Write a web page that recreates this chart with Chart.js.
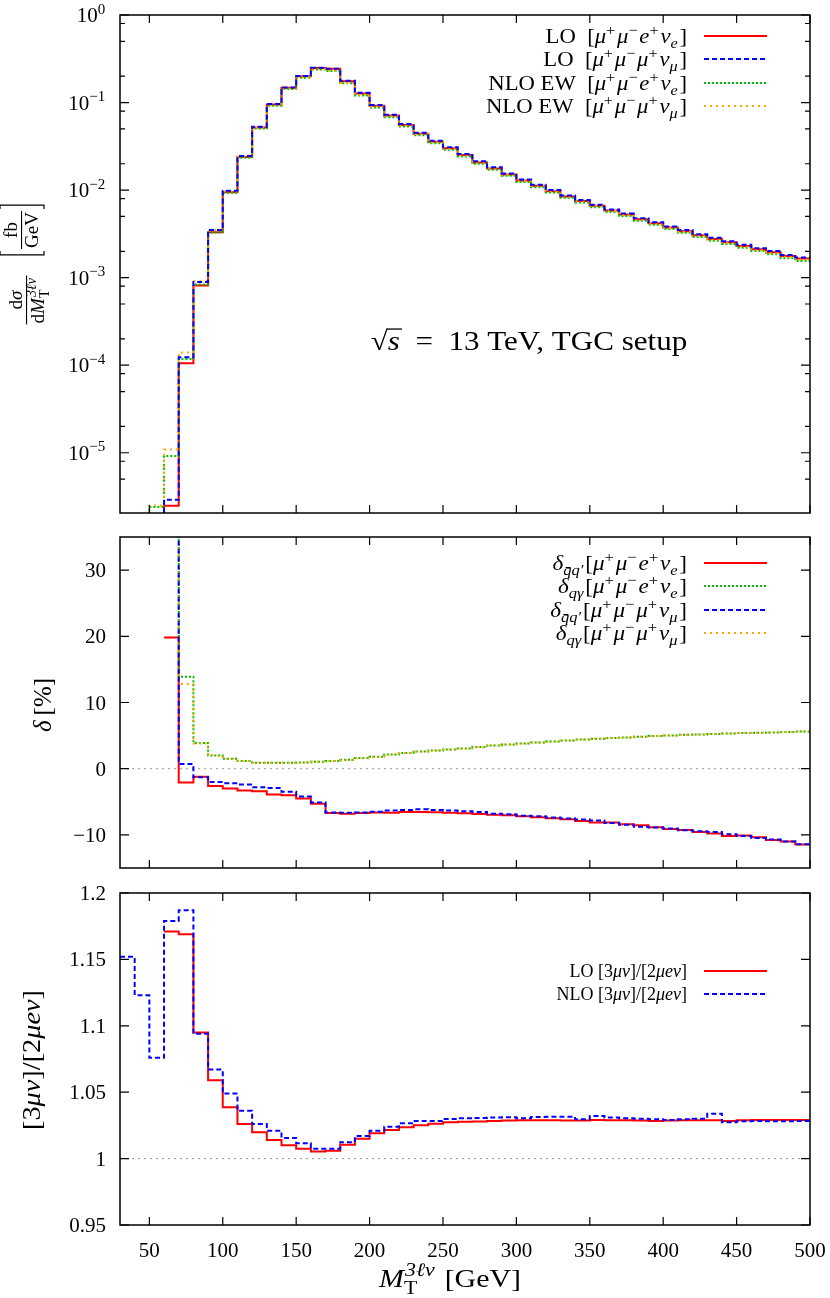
<!DOCTYPE html>
<html>
<head>
<meta charset="utf-8">
<script src="https://cdn.jsdelivr.net/npm/chart.js"></script>
<style>
  html, body { margin: 0; padding: 0; background: #fff; }
  #wrap { position: relative; width: 830px; height: 1298px; background: #fff; overflow: hidden; }
  canvas { position: absolute; left: 0; }
</style>
</head>
<body>
<div id="wrap">
  <canvas id="top" width="830" height="533" style="top:0px"></canvas>
  <canvas id="mid" width="830" height="371" style="top:517px"></canvas>
  <canvas id="bot" width="830" height="425" style="top:873px"></canvas>
</div>
<script>
// lower bin edges in GeV, the last bin ends at 500
const binLow = [30, 40, 50, 60, 70, 80, 90, 100, 110, 120, 130, 140, 150, 160, 170, 180, 190, 200,
  210, 220, 230, 240, 250, 260, 270, 280, 290, 300, 310, 320, 330, 340, 350, 360, 370, 380, 390,
  400, 410, 420, 430, 440, 450, 460, 470, 480, 490];
const binEnd = 500;

// tick labels
const xTicks = [50, 100, 150, 200, 250, 300, 350, 400, 450, 500];
const topTicks = [1e-5, 1e-4, 1e-3, 1e-2, 1e-1, 1];
const topMinor = [5e-6, 8e-6, 2e-5, 5e-5, 8e-5, 2e-4, 5e-4, 8e-4, 2e-3, 5e-3, 8e-3,
  2e-2, 5e-2, 8e-2, 2e-1, 5e-1, 8e-1];
const midTicks = [-10, 0, 10, 20, 30];
const botTicks = [0.95, 1, 1.05, 1.1, 1.15, 1.2];

// top panel: dsigma/dM [fb/GeV]
const loE = [null, null, 1.2e-6, 2.48e-6, 1.05e-4, 8.13e-4, 3.30e-3, 9.44e-3, 2.39e-2, 5.20e-2, 9.47e-2,
  0.1475, 0.1995, 0.2487, 0.2425, 0.1752, 0.1271, 0.0922, 0.0711, 0.0555, 0.0441, 0.0357, 0.0300,
  0.0251, 0.0207, 0.0177, 0.01507, 0.01283, 0.01118, 0.00972, 0.00846, 0.00749, 0.00661, 0.00583,
  0.00525, 0.00465, 0.00418, 0.00374, 0.00339, 0.00305, 0.00277, 0.00254, 0.00230, 0.00211,
  0.00195, 0.00177, 0.00165];
const loMu = [null, null, 1.3e-6, 2.9e-6, 1.23e-4, 8.9e-4, 3.5e-3, 9.8e-3, 2.45e-2, 5.3e-2, 9.6e-2,
  0.149, 0.201, 0.250, 0.244, 0.177, 0.129, 0.094, 0.0726, 0.0568, 0.0452, 0.0366, 0.0308, 0.0258,
  0.0213, 0.0182, 0.0155, 0.0132, 0.0115, 0.0100, 0.0087, 0.0077, 0.0068, 0.0060, 0.0054, 0.00478,
  0.0043, 0.00385, 0.00349, 0.00314, 0.00285, 0.00261, 0.00237, 0.00217, 0.00201, 0.00182, 0.0017];
const nloE = [null, 1.0e-6, 2.4e-6, 9.2e-6, 1.174e-4, 8.35e-4, 3.28e-3, 9.30e-3, 2.339e-2, 5.07e-2,
  9.19e-2, 0.1429, 0.1924, 0.2381, 0.2290, 0.1657, 0.1206, 0.0878, 0.0679, 0.0532, 0.0424, 0.0343,
  0.0289, 0.0242, 0.01996, 0.0171, 0.01456, 0.0124, 0.0108, 0.00939, 0.00817, 0.00723, 0.00637,
  0.00562, 0.00506, 0.00448, 0.00402, 0.00359, 0.00325, 0.00292, 0.00264, 0.00242, 0.00219,
  0.00201, 0.00185, 0.00167, 0.00155];
const nloMu = [null, 1.0e-6, 2.5e-6, 1.09e-5, 1.396e-4, 9.13e-4, 3.5e-3, 9.73e-3, 2.419e-2, 5.20e-2,
  9.41e-2, 0.1451, 0.1945, 0.2399, 0.2307, 0.1676, 0.1226, 0.0896, 0.0696, 0.0546, 0.0436, 0.0353,
  0.0297, 0.0249, 0.0206, 0.0176, 0.0150, 0.01277, 0.01113, 0.00967, 0.00842, 0.00745, 0.00657,
  0.00579, 0.0052, 0.00459, 0.00413, 0.0037, 0.00334, 0.00301, 0.00273, 0.00249, 0.00226, 0.00206,
  0.0019, 0.00172, 0.0016];

// middle panel: relative corrections [%]
const dqqE = [null, null, null, 19.8, -2.1, -1.2, -2.6, -3.0, -3.3, -3.4, -3.9, -4.0, -4.5, -5.3, -6.7,
  -6.8, -6.7, -6.6, -6.64, -6.54, -6.54, -6.59, -6.64, -6.74, -6.84, -6.94, -7.04, -7.19, -7.34,
  -7.49, -7.64, -7.89, -8.14, -8.14, -8.39, -8.55, -8.85, -9.1, -9.25, -9.55, -9.8, -10.16, -10.1,
  -10.36, -10.76, -11.01, -11.46];
const dqgE = [null, null, null, 250, 13.9, 3.9, 2.0, 1.5, 1.15, 0.9, 0.9, 0.9, 0.95, 1.05, 1.15, 1.35,
  1.6, 1.8, 2.16, 2.36, 2.6, 2.75, 2.9, 3.06, 3.26, 3.52, 3.67, 3.82, 3.97, 4.12, 4.27, 4.42, 4.52,
  4.62, 4.73, 4.83, 4.93, 5.03, 5.13, 5.18, 5.23, 5.33, 5.38, 5.43, 5.48, 5.53, 5.63];
const dqqMu = [null, null, null, 60, 0.7, -1.3, -2.0, -2.2, -2.4, -2.8, -2.9, -3.5, -4.2, -5.1, -6.6,
  -6.65, -6.6, -6.5, -6.33, -6.23, -6.13, -6.23, -6.33, -6.44, -6.54, -6.79, -6.89, -7.09, -7.19,
  -7.39, -7.54, -7.69, -7.84, -8.19, -8.45, -8.75, -8.9, -9.05, -9.3, -9.45, -9.55, -9.9, -10.16,
  -10.46, -10.71, -11.01, -11.41];
const dqgMu = [null, null, null, 216, 12.8, 3.8, 2.0, 1.5, 1.15, 0.9, 0.88, 0.9, 0.95, 1.05, 1.15, 1.33,
  1.58, 1.8, 2.15, 2.36, 2.58, 2.75, 2.9, 3.05, 3.25, 3.5, 3.67, 3.82, 3.97, 4.1, 4.27, 4.42, 4.52,
  4.62, 4.72, 4.83, 4.93, 5.02, 5.12, 5.18, 5.23, 5.32, 5.38, 5.43, 5.48, 5.53, 5.62];

// bottom panel: [3 mu nu]/[2 mu e nu]
const ratioLO = [null, null, null, 1.171, 1.169, 1.095, 1.059, 1.0386, 1.026, 1.0198, 1.014, 1.010,
  1.0075, 1.0053, 1.006, 1.0105, 1.015, 1.019, 1.0216, 1.0236, 1.0251, 1.0263, 1.0274, 1.0278, 1.028,
  1.0283, 1.0286, 1.0288, 1.0288, 1.0288, 1.0286, 1.0286, 1.0291, 1.0288, 1.0288, 1.0286, 1.0283,
  1.0286, 1.0288, 1.0288, 1.0288, 1.0283, 1.0288, 1.0291, 1.0291, 1.0291, 1.0291];
const ratioNLO = [1.152, 1.123, 1.076, 1.179, 1.187, 1.094, 1.067, 1.049, 1.036, 1.026, 1.021, 1.0156,
  1.0116, 1.0075, 1.0075, 1.0123, 1.017, 1.021, 1.024, 1.0266, 1.0283, 1.0283, 1.0298, 1.0303, 1.0306,
  1.0309, 1.0311, 1.0304, 1.0314, 1.0316, 1.0316, 1.0296, 1.0321, 1.0309, 1.0304, 1.0301, 1.0296,
  1.0291, 1.0296, 1.0301, 1.0338, 1.0273, 1.0281, 1.0283, 1.0281, 1.0281, 1.0283];

const RED = "#ff0000", BLUE = "#0000ff", GREEN = "#00c000", ORANGE = "#ffa500", GREY = "#999999";
const DASH_BLUE = [5, 3], DASH_GREEN = [2, 2], DASH_ORANGE = [2, 4];
const SERIF = "'Liberation Serif', 'DejaVu Serif', serif";

function steps(vals) {
  const pts = binLow.map((x, i) => ({ x: x, y: vals[i] }));
  pts.push({ x: binEnd, y: vals[vals.length - 1] });
  return pts;
}
function line(vals, color, dash) {
  return { data: steps(vals), borderColor: color, borderWidth: 2, borderDash: dash,
    stepped: true, pointRadius: 0, fill: false, spanGaps: false };
}
function refLine(v) {
  return { data: [{ x: 30, y: v }, { x: 500, y: v }], borderColor: GREY, borderWidth: 1,
    borderDash: [2, 4], pointRadius: 0, fill: false };
}

// rich text: r roman, i italic, sup/sub roman, supi/subi italic, stack "sup|sub"
function isSmall(kind) { return kind.startsWith("sup") || kind.startsWith("sub") || kind === "stack"; }
function fnt(kind, size) {
  return (kind.endsWith("i") ? "italic " : "") + Math.round(isSmall(kind) ? size * 0.72 : size) + "px " + SERIF;
}
function partWidth(ctx, t, k, size) {
  const extra = isSmall(k) ? size * 0.08 : 0;
  if (k === "stack") {
    const [a, b] = t.split("|");
    ctx.font = "italic " + fnt(k, size); const wa = ctx.measureText(a).width;
    ctx.font = fnt(k, size); const wb = ctx.measureText(b).width;
    return Math.max(wa, wb) + 1 + extra;
  }
  ctx.font = fnt(k, size);
  return ctx.measureText(t).width + extra;
}
function measure(ctx, parts, size) {
  let w = 0;
  for (const [t, k] of parts) w += partWidth(ctx, t, k, size);
  return w;
}
// draws parts with baseline y; k widens the text a little to follow the wider TeX fonts
function rich(ctx, parts, x, y, size, align, k) {
  k = k || 1;
  ctx.textAlign = "left"; ctx.textBaseline = "alphabetic";
  const W = measure(ctx, parts, size) * k;
  const x0 = align === "right" ? x - W : align === "center" ? x - W / 2 : x;
  ctx.save();
  ctx.translate(x0, y); ctx.scale(k, 1);
  let cx = 0;
  for (const [t, kd] of parts) {
    const pw = partWidth(ctx, t, kd, size);
    if (kd === "stack") {
      const [a, b] = t.split("|");
      ctx.font = "italic " + fnt(kd, size); ctx.fillText(a, cx + 1, -size * 0.42);
      ctx.font = fnt(kd, size); ctx.fillText(b, cx, size * 0.25);
    } else {
      ctx.font = fnt(kd, size);
      const dy = kd.startsWith("sup") ? -size * 0.4 : kd.startsWith("sub") ? size * 0.25 : 0;
      ctx.fillText(t, cx, dy);
    }
    cx += pw;
  }
  ctx.restore();
  return W;
}
function fitK(ctx, parts, size, target) {
  return Math.min(1.15, Math.max(1, target / measure(ctx, parts, size)));
}
function rotText(ctx, parts, x, y, size, target) {
  ctx.save();
  ctx.translate(x, y); ctx.rotate(-Math.PI / 2);
  const k = target ? fitK(ctx, parts, size, target) : 1;
  rich(ctx, parts, 0, size * 0.35, size, "center", k);
  ctx.restore();
}
// rows: [parts, colour, dash]; text right-aligned at 687, sample from 704 to 767
function legend(ctx, rows, ys, size, k) {
  rows.forEach((row, i) => {
    const y = ys[i];
    ctx.fillStyle = "#000";
    rich(ctx, row[0], 687, y + size * 0.33, size, "right", k);
    ctx.strokeStyle = row[1]; ctx.lineWidth = 2; ctx.setLineDash(row[2]);
    ctx.beginPath(); ctx.moveTo(704, y); ctx.lineTo(767, y); ctx.stroke();
    ctx.setLineDash([]);
  });
  ctx.strokeStyle = "#000";
}
function yLabels(ctx, scale, ticks, fmt) {
  ctx.fillStyle = "#000";
  ticks.forEach(v => rich(ctx, [[fmt(v), "r"]], 106, scale.getPixelForValue(v) + 7, 21, "right"));
}

const chanE = [["[", "r"], ["μ", "i"], ["+", "sup"], ["μ", "i"], ["−", "sup"], ["e", "i"], ["+", "sup"],
  ["ν", "i"], ["e", "subi"], ["]", "r"]];
const chanMu = [["[", "r"], ["μ", "i"], ["+", "sup"], ["μ", "i"], ["−", "sup"], ["μ", "i"], ["+", "sup"],
  ["ν", "i"], ["μ", "subi"], ["]", "r"]];
const dQQ = [["δ", "i"], ["q\u0304q\u2032", "subi"]];
const dQG = [["δ", "i"], ["qγ", "subi"]];
const GAP = ["\u2002", "r"];

// inward ticks, frame and panel texts
function frame(yMajor, yMinor, extra) {
  return {
    id: "frame",
    afterDraw(chart) {
      const { ctx, chartArea: a, scales } = chart;
      ctx.save();
      ctx.strokeStyle = "#000"; ctx.lineWidth = 1.2; ctx.setLineDash([]);
      ctx.beginPath();
      for (const v of xTicks) {
        const p = scales.x.getPixelForValue(v);
        ctx.moveTo(p, a.top); ctx.lineTo(p, a.top + 8);
        ctx.moveTo(p, a.bottom); ctx.lineTo(p, a.bottom - 8);
      }
      const yt = (list, len) => list.forEach(v => {
        const p = scales.y.getPixelForValue(v);
        if (p < a.top - 0.5 || p > a.bottom + 0.5) return;
        ctx.moveTo(a.left, p); ctx.lineTo(a.left + len, p);
        ctx.moveTo(a.right, p); ctx.lineTo(a.right - len, p);
      });
      yt(yMajor, 9); yt(yMinor, 5);
      ctx.stroke();
      ctx.lineWidth = 1.5;
      ctx.strokeRect(a.left, a.top, a.width, a.height);
      ctx.fillStyle = "#000";
      extra(ctx, chart);
      ctx.restore();
    }
  };
}

function opts(yScale, xHeight, padTop) {
  return {
    responsive: false, animation: false, devicePixelRatio: 1,
    layout: { padding: { top: padTop, right: 20, left: 0, bottom: 0 } },
    plugins: { legend: { display: false }, tooltip: { enabled: false } },
    scales: {
      x: {
        type: "linear", min: 30, max: 500,
        grid: { display: false, drawTicks: false }, border: { display: false },
        ticks: { display: false },
        afterFit: s => { s.height = xHeight; }
      },
      y: Object.assign({
        grid: { display: false, drawTicks: false }, border: { display: false },
        ticks: { display: false },
        afterFit: s => { s.width = 120; }
      }, yScale)
    }
  };
}

// ---- top panel
new Chart(document.getElementById("top"), {
  type: "line",
  data: { datasets: [
    line(loMu, BLUE, DASH_BLUE), line(nloMu, ORANGE, DASH_ORANGE),
    line(nloE, GREEN, DASH_GREEN), line(loE, RED, [])
  ] },
  options: opts({ type: "logarithmic", min: 2.05e-6, max: 1 }, 20, 15),
  plugins: [frame(topTicks, topMinor, (ctx, chart) => {
    const ys = chart.scales.y;
    topTicks.forEach(v => {
      const e = Math.round(Math.log10(v));
      rich(ctx, [["10", "r"], [e === 0 ? "0" : "−" + (-e), "sup"]], 107, ys.getPixelForValue(v) + 7, 21, "right");
    });
    legend(ctx, [
      [[["LO", "r"], GAP, ...chanE], RED, []],
      [[["LO", "r"], GAP, ...chanMu], BLUE, DASH_BLUE],
      [[["NLO EW", "r"], GAP, ...chanE], GREEN, DASH_GREEN],
      [[["NLO EW", "r"], GAP, ...chanMu], ORANGE, DASH_ORANGE]
    ], [36, 59, 83, 106], 21, 1.08);
    // sqrt(s) annotation, about 370..688
    const s = 27, by = 350;
    const ann = [["√", "r"], ["s", "i"], ["\u2002=\u200213 TeV, TGC setup", "r"]];
    const k = fitK(ctx, ann, s, 318);
    const w0 = rich(ctx, ann, 529, by, s, "center", k);
    const x0 = 529 - w0 / 2;
    const w1 = partWidth(ctx, "√", "r", s), ws = partWidth(ctx, "s", "i", s);
    ctx.fillRect(x0 + w1 * k - 1, by - s * 0.8, ws * k + 3, 1.3);
    // y title: dsigma / dM_T^{3lnu} [fb/GeV]
    ctx.save();
    ctx.translate(27, 266); ctx.rotate(-Math.PI / 2);
    const f = 19;
    rich(ctx, [["d", "r"], ["σ", "i"]], -34, -5, f, "center");
    const wd = rich(ctx, [["d", "r"], ["M", "i"], ["3ℓν|T", "stack"]], -34, 17, f, "center");
    ctx.fillRect(-34 - wd / 2 - 1, -1, wd + 2, 1.1);
    rich(ctx, [["fb", "r"]], 36, -10, f, "center");
    const wg = rich(ctx, [["GeV", "r"]], 36, 11, f, "center");
    ctx.fillRect(36 - wg / 2 - 1, -6, wg + 2, 1.1);
    const l = 36 - wg / 2 - 7, r = 36 + wg / 2 + 7;
    ctx.strokeStyle = "#000"; ctx.lineWidth = 1.2; ctx.beginPath();
    ctx.moveTo(l + 4, -27); ctx.lineTo(l, -27); ctx.lineTo(l, 17); ctx.lineTo(l + 4, 17);
    ctx.moveTo(r - 4, -27); ctx.lineTo(r, -27); ctx.lineTo(r, 17); ctx.lineTo(r - 4, 17);
    ctx.stroke();
    ctx.restore();
  })]
});

// ---- middle panel
new Chart(document.getElementById("mid"), {
  type: "line",
  data: { datasets: [
    line(dqqMu, BLUE, DASH_BLUE), line(dqgMu, ORANGE, DASH_ORANGE),
    line(dqgE, GREEN, DASH_GREEN), line(dqqE, RED, []), refLine(0)
  ] },
  options: opts({ type: "linear", min: -15, max: 35 }, 20, 20),
  plugins: [frame(midTicks, [], (ctx, chart) => {
    yLabels(ctx, chart.scales.y, midTicks, v => (v < 0 ? "−" + (-v) : String(v)));
    legend(ctx, [
      [[...dQQ, ...chanE], RED, []],
      [[...dQG, ...chanE], GREEN, DASH_GREEN],
      [[...dQQ, ...chanMu], BLUE, DASH_BLUE],
      [[...dQG, ...chanMu], ORANGE, DASH_ORANGE]
    ], [46, 69, 93, 116], 21, 1.1);
    rotText(ctx, [["δ", "i"], ["\u2009[%]", "r"]], 42, 188, 25, 50);
  })]
});

// ---- bottom panel
new Chart(document.getElementById("bot"), {
  type: "line",
  data: { datasets: [
    line(ratioNLO, BLUE, DASH_BLUE), line(ratioLO, RED, []), refLine(1)
  ] },
  options: opts({ type: "linear", min: 0.95, max: 1.2 }, 73, 20),
  plugins: [frame(botTicks, [], (ctx, chart) => {
    yLabels(ctx, chart.scales.y, botTicks, v => String(+v.toFixed(2)));
    xTicks.forEach(v => rich(ctx, [[String(v), "r"]], chart.scales.x.getPixelForValue(v), 384, 21, "center"));
    legend(ctx, [
      [[["LO [3", "r"], ["μν", "i"], ["]/[2", "r"], ["μeν", "i"], ["]", "r"]], RED, []],
      [[["NLO [3", "r"], ["μν", "i"], ["]/[2", "r"], ["μeν", "i"], ["]", "r"]], BLUE, DASH_BLUE]
    ], [98, 121], 18, 1);
    rotText(ctx, [["[3", "r"], ["μν", "i"], ["]/[2", "r"], ["μeν", "i"], ["]", "r"]], 31, 187, 25, 140);
    const xt = [["M", "i"], ["3ℓν|T", "stack"], [" [GeV]", "r"]];
    rich(ctx, xt, 450, 414, 26, "center", fitK(ctx, xt, 26, 156));
  })]
});
</script>
</body>
</html>
